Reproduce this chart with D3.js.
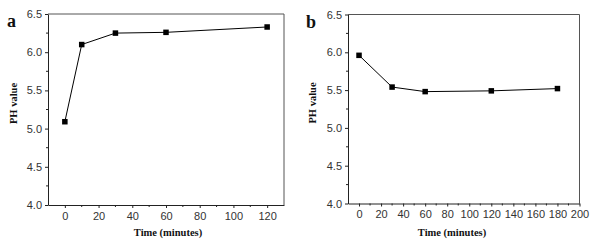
<!DOCTYPE html>
<html><head><meta charset="utf-8">
<script src="https://cdn.jsdelivr.net/npm/d3@7"></script>
<style>body{margin:0;background:#fff}svg{display:block}</style>
</head><body>
<svg id="c" width="591" height="243"></svg>
<script>
// Panel a data
const timeA = [0, 10, 30, 60, 120];
const phA = [5.09, 6.10, 6.25, 6.26, 6.33];
// Panel b data
const timeB = [0, 30, 60, 120, 180];
const phB = [5.96, 5.54, 5.48, 5.49, 5.52];
// tick labels
const yTicks = [4.0, 4.5, 5.0, 5.5, 6.0, 6.5];
const xTicksA = [0, 20, 40, 60, 80, 100, 120];
const xTicksB = [0, 20, 40, 60, 80, 100, 120, 140, 160, 180, 200];
const panelLabels = ["a", "b"];
const xTitle = "Time (minutes)";
const yTitle = "PH value";

const svg = d3.select("#c");

function panel(cfg) {
  const x = d3.scaleLinear().domain(cfg.xDomain).range([cfg.left, cfg.right]);
  const y = d3.scaleLinear().domain([4.0, 6.5]).range([cfg.bottom, cfg.top]);
  const g = svg.append("g");

  const xMinor = d3.range(10, cfg.xDomain[1], 20);
  const yMinor = d3.range(4.25, 6.5, 0.5);

  g.append("path")
    .attr("d", `M${cfg.left},${cfg.top}H${cfg.right}V${cfg.bottom}`)
    .attr("fill", "none").attr("stroke", "#555").attr("stroke-width", 1);

  const xAxis = d3.axisBottom(x).tickValues(cfg.xTicks).tickFormat(d3.format("d"))
    .tickSizeInner(3).tickSizeOuter(0).tickPadding(4);
  const gx = g.append("g").attr("transform", `translate(0,${cfg.bottom})`).call(xAxis);
  gx.selectAll(".tick line").attr("stroke", "#222");
  gx.select(".domain").attr("stroke", "#222");
  gx.selectAll("text").attr("font-family", "Liberation Sans, Arial, sans-serif")
    .attr("font-size", 11).attr("fill", "#333");
  gx.selectAll(".minor").data(xMinor.filter(d => d > cfg.xDomain[0] && d < cfg.xDomain[1]))
    .enter().append("line").attr("class", "minor")
    .attr("x1", d => x(d)).attr("x2", d => x(d)).attr("y1", 0).attr("y2", 2)
    .attr("stroke", "#222");

  const yAxis = d3.axisLeft(y).tickValues(yTicks).tickFormat(d3.format(".1f"))
    .tickSizeInner(3).tickSizeOuter(0).tickPadding(3);
  const gy = g.append("g").attr("transform", `translate(${cfg.left},0)`).call(yAxis);
  gy.selectAll(".tick line").attr("stroke", "#222");
  gy.select(".domain").attr("stroke", "#222");
  gy.selectAll("text").attr("font-family", "Liberation Sans, Arial, sans-serif")
    .attr("font-size", 11).attr("fill", "#333");
  gy.selectAll(".minor").data(yMinor).enter().append("line").attr("class", "minor")
    .attr("y1", d => y(d)).attr("y2", d => y(d)).attr("x1", 0).attr("x2", -2)
    .attr("stroke", "#222");

  const pts = cfg.t.map((d, i) => [d, cfg.v[i]]);
  g.append("path").datum(pts)
    .attr("d", d3.line().x(d => x(d[0])).y(d => y(d[1])))
    .attr("fill", "none").attr("stroke", "#000").attr("stroke-width", 1);
  g.selectAll(".pt").data(pts).enter().append("rect")
    .attr("x", d => x(d[0]) - 2.75).attr("y", d => y(d[1]) - 2.75)
    .attr("width", 5.5).attr("height", 5.5).attr("fill", "#000");

  g.append("text").text(xTitle).attr("x", cfg.xtX).attr("y", 236)
    .attr("text-anchor", "middle").attr("font-family", "Liberation Serif, Times New Roman, serif")
    .attr("font-weight", "bold").attr("font-size", 10.5).attr("fill", "#111");
  g.append("text").text(yTitle)
    .attr("transform", `translate(${cfg.ytX},${(cfg.top + cfg.bottom) / 2 - 6}) rotate(-90)`)
    .attr("text-anchor", "middle").attr("font-family", "Liberation Serif, Times New Roman, serif")
    .attr("font-weight", "bold").attr("font-size", 10.5).attr("fill", "#111");
  g.append("text").text(cfg.label).attr("x", cfg.lx).attr("y", cfg.ly)
    .attr("font-family", "Liberation Serif, Times New Roman, serif")
    .attr("font-weight", "bold").attr("font-size", 18).attr("fill", "#111");
}

panel({t: timeA, v: phA, xDomain: [-10, 130], xTicks: xTicksA,
  left: 48, right: 284, top: 14, bottom: 205, xtX: 168, ytX: 17, label: panelLabels[0], lx: 7, ly: 27});
panel({t: timeB, v: phB, xDomain: [-10, 200], xTicks: xTicksB,
  left: 348, right: 579.5, top: 14.5, bottom: 203.5, xtX: 452, ytX: 316, label: panelLabels[1], lx: 306, ly: 28});
</script>
</body></html>
